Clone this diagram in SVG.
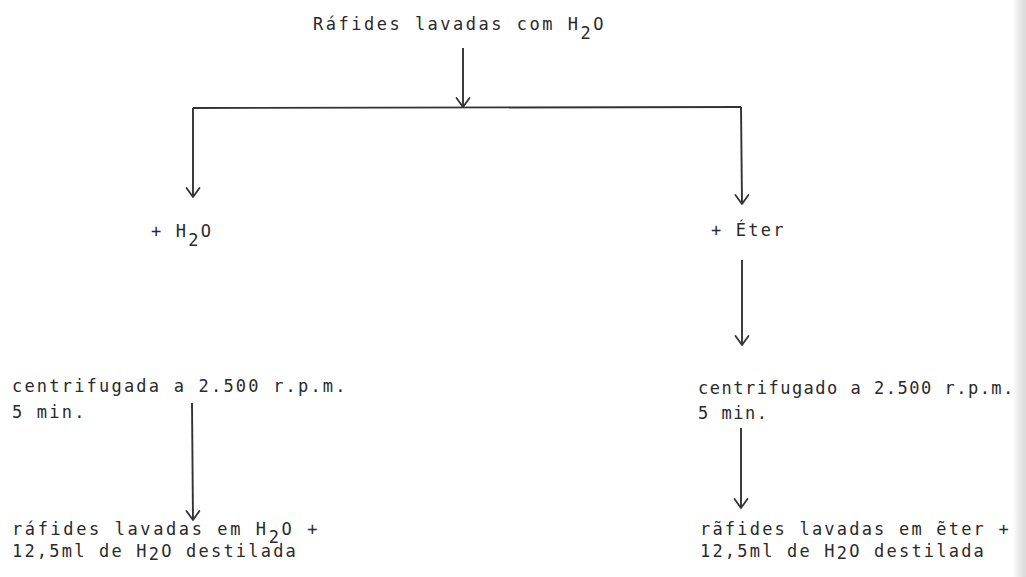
<svg xmlns="http://www.w3.org/2000/svg" width="1026" height="577" viewBox="0 0 1026 577">
  <defs>
    <marker id="arr" markerUnits="userSpaceOnUse" viewBox="-12 -10 14 20" markerWidth="14" markerHeight="20" refX="0" refY="0" orient="auto" overflow="visible">
      <path d="M-9,-6.5 L0,0 L-9,6.5" fill="none" stroke="#333" stroke-width="1.8" stroke-linecap="round" stroke-linejoin="round"/>
    </marker>
    <linearGradient id="shadow" x1="0" y1="0" x2="1" y2="0">
      <stop offset="0" stop-color="#ffffff"/>
      <stop offset="1" stop-color="#d8d8d8"/>
    </linearGradient>
  </defs>
  <style>
    text { font-family: "DejaVu Sans Mono", "Liberation Mono", monospace; font-size: 17px; fill: #2a2a2a; letter-spacing: 2.2px; }
    .w { letter-spacing: 1.5px; }
    .t { letter-spacing: 2.5px; }
    .b { letter-spacing: 2.6px; }
    .c line { stroke: #333; stroke-width: 1.9; fill: none; marker-end: url(#arr); }
    .c .plain { marker-end: none; }
  </style>
  <rect x="0" y="0" width="1026" height="577" fill="#ffffff"/>
  <rect x="1012" y="0" width="14" height="577" fill="url(#shadow)"/>

  <g id="connectors" class="c">
    <line x1="463" y1="48" x2="463" y2="107"/>
    <line class="plain" x1="193" y1="108" x2="741" y2="107"/>
    <line x1="193" y1="108" x2="193" y2="197"/>
    <line x1="741" y1="107" x2="742" y2="204"/>
    <line x1="742" y1="260" x2="742" y2="345"/>
    <line x1="192" y1="403" x2="193" y2="520"/>
    <line x1="741" y1="428" x2="741" y2="508"/>
  </g>

  <g id="n-top">
    <text x="313" y="30" class="t">Ráfides lavadas com H<tspan dy="9">2</tspan><tspan dy="-9">O</tspan></text>
  </g>
  <g id="n-h2o">
    <text x="151" y="237">+ H<tspan dy="9">2</tspan><tspan dy="-9">O</tspan></text>
  </g>
  <g id="n-eter">
    <text x="711" y="236">+ Éter</text>
  </g>
  <g id="n-centr-left">
    <text x="12" y="392">centrifugada a 2.500 r.p.m.</text>
    <text x="12" y="418">5 min.</text>
  </g>
  <g id="n-centr-right">
    <text x="698" y="394" class="w">centrifugado a 2.500 r.p.m.</text>
    <text x="698" y="419" class="w">5 min.</text>
  </g>
  <g id="n-final-left">
    <text x="12" y="535" class="b">ráfides lavadas em H<tspan dy="8">2</tspan><tspan dy="-8">O +</tspan></text>
    <text x="12" y="557">12,5ml de H<tspan dy="3">2</tspan><tspan dy="-3">O destilada</tspan></text>
  </g>
  <g id="n-final-right">
    <text x="700" y="535">rãfides lavadas em ẽter +</text>
    <text x="700" y="557">12,5ml de H<tspan dy="2">2</tspan><tspan dy="-2">O destilada</tspan></text>
  </g>
</svg>
